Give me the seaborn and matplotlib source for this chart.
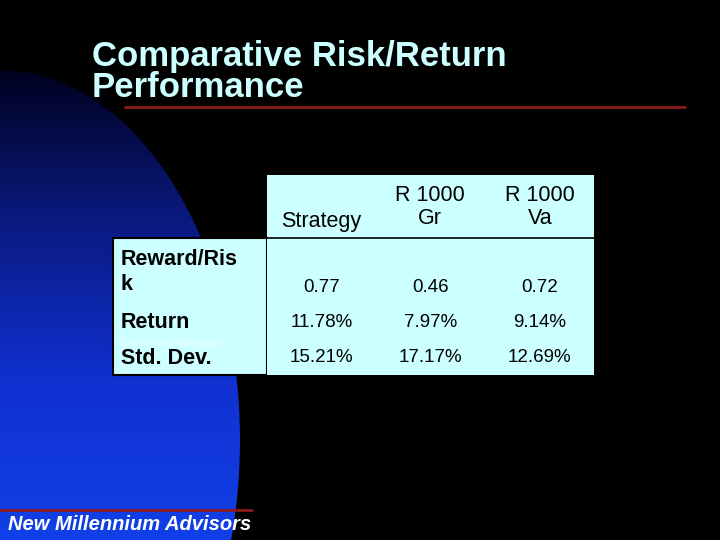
import numpy as np
import matplotlib
matplotlib.use("Agg")
import matplotlib.pyplot as plt
import seaborn as sns
from matplotlib.patches import Ellipse, Rectangle
from matplotlib.colors import ListedColormap, LinearSegmentedColormap

sns.set_theme(style="white")
plt.rcParams['font.family'] = ['Liberation Sans', 'DejaVu Sans']

columns = ["Strategy", "R 1000\nGr", "R 1000\nVa"]
rows = ["Reward/Ris\nk", "Return", "Std. Dev."]
values = np.array([[0.77, 0.46, 0.72],
                   [11.78, 7.97, 9.14],
                   [15.21, 17.17, 12.69]])
labels = [["0.77", "0.46", "0.72"],
          ["11.78%", "7.97%", "9.14%"],
          ["15.21%", "17.17%", "12.69%"]]

W, H = 720, 540
fig = plt.figure(figsize=(7.2, 5.4), dpi=100, facecolor="black")
ax = fig.add_axes([0, 0, 1, 1])
ax.set_xlim(0, W); ax.set_ylim(H, 0); ax.axis("off")
ax.add_patch(Rectangle((0, 0), W, H, color="black", zorder=0))

grad = np.linspace(0, 1, 256).reshape(-1, 1)
cm = LinearSegmentedColormap.from_list("b", ["#000018", "#0a1a80", "#1030d0", "#1040e8"])
im = ax.imshow(grad, extent=(0, 260, H, 60), cmap=cm, aspect="auto", zorder=1)
ell = Ellipse((0, 440), 2 * 240, 2 * 370, transform=ax.transData, facecolor="none", edgecolor="none")
ax.add_patch(ell)
im.set_clip_path(ell)
ax.set_xlim(0, W); ax.set_ylim(H, 0)

ax.text(92, 104, "Comparative Risk/Return\nPerformance", color="#ccffff", fontsize=25,
        fontweight="bold", va="bottom", ha="left", linespacing=0.92, zorder=5)
ax.plot([125, 685], [107, 107], color="#8b1a1a", lw=2, zorder=5)
ax.plot([0, 252], [510, 510], color="#8b1a1a", lw=2, zorder=5)
ax.text(8, 525, "New Millennium Advisors", color="white", fontsize=14.5, fontstyle="italic",
        fontweight="bold", va="center", ha="left", zorder=5)

cyan = "#ccffff"
ax.add_patch(Rectangle((267, 175), 327, 63, facecolor=cyan, edgecolor="none", zorder=3))
ax.add_patch(Rectangle((113, 238), 154, 137, facecolor=cyan, edgecolor="black", lw=1.5, zorder=3))
ax.add_patch(Rectangle((267, 238), 327, 137, facecolor=cyan, edgecolor="none", zorder=3))
ax.plot([267, 594], [238, 238], color="black", lw=1.2, zorder=4)
colx = [321, 430, 540]
for x, c in zip(colx, columns):
    ax.text(x, 232 if c == "Strategy" else 207, c, ha="center", va="bottom" if c == "Strategy" else "center",
            fontsize=15.5, color="black", zorder=5, linespacing=1.15)
ax.text(121, 272, rows[0], ha="left", va="center", fontsize=15.5, fontweight="bold",
        color="black", zorder=5, linespacing=1.3)
ax.text(121, 322, rows[1], ha="left", va="center", fontsize=15.5, fontweight="bold", color="black", zorder=5)
ax.text(121, 359, rows[2], ha="left", va="center", fontsize=15.5, fontweight="bold", color="black", zorder=5)
ax.text(118, 343, "Source: New Millennium", ha="left", va="center", fontsize=7, color="#e8ffff", zorder=6)

hax = fig.add_axes([267 / W, (H - 375) / H, 327 / W, 105 / H])
sns.heatmap(values, ax=hax, cmap=ListedColormap([cyan]), cbar=False, annot=np.array(labels),
            fmt="", annot_kws={"fontsize": 13.5, "color": "black"}, xticklabels=False, yticklabels=False)
hax.set_facecolor(cyan)

fig.savefig("out.png", dpi=100, facecolor="black")
